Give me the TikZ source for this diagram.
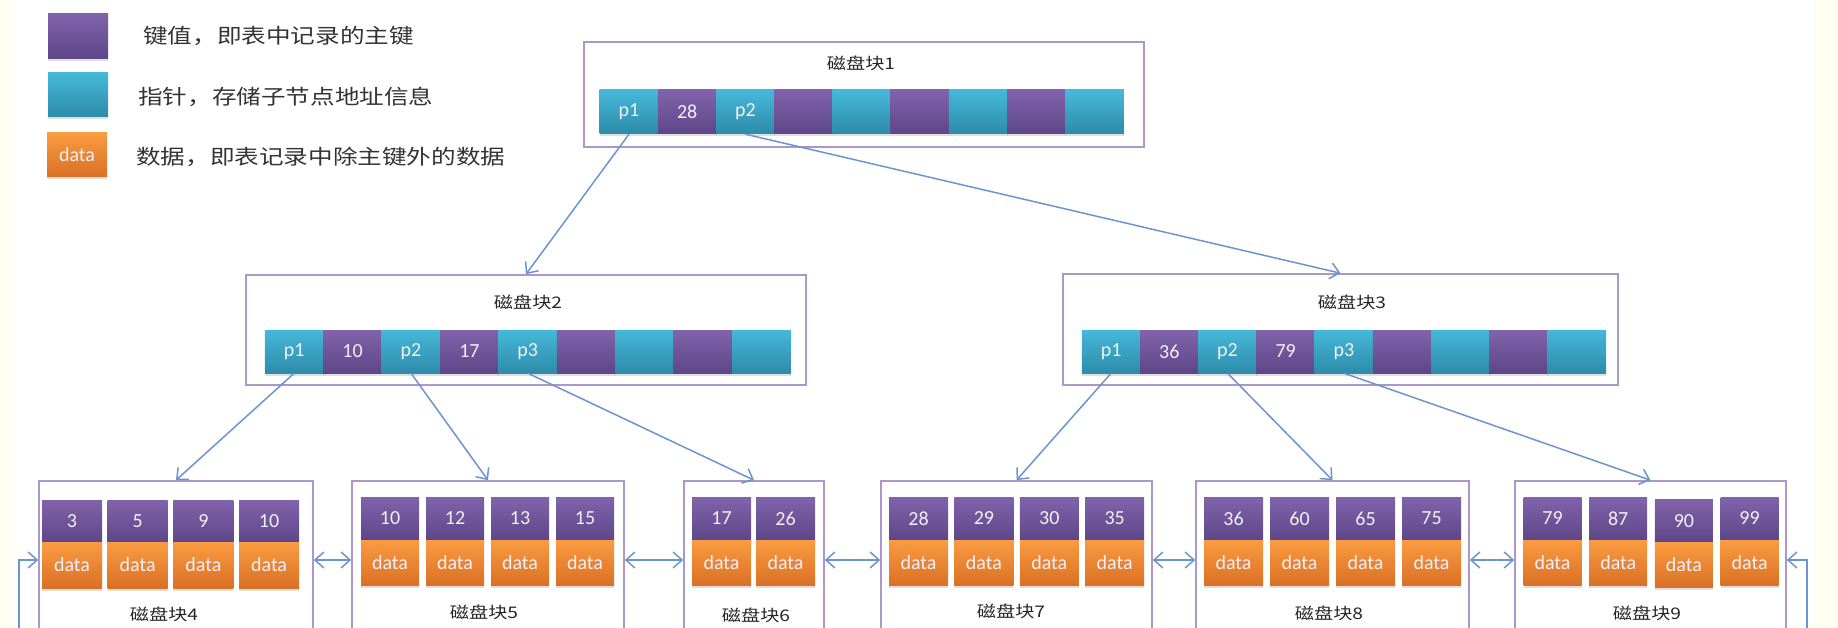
\documentclass[tikz,border=0pt]{standalone}
\usepackage{fontspec}
\setmainfont{Carlito}
\newfontfamily\cjk[FakeStretch=1.2]{Noto Sans CJK SC}
\usepackage{tikz}
\usetikzlibrary{arrows.meta,shadows}
\definecolor{keytop}{HTML}{8163AB}
\definecolor{keybot}{HTML}{5E4688}
\definecolor{ptrtop}{HTML}{46B8DA}
\definecolor{ptrbot}{HTML}{2E8BA9}
\definecolor{dattop}{HTML}{FA9C42}
\definecolor{datbot}{HTML}{DA7024}
\definecolor{frame}{HTML}{AC97CC}
\definecolor{linkblue}{HTML}{6A95CE}
\definecolor{cream}{HTML}{FFFEF0}
\definecolor{celltext}{HTML}{F3EFF8}
\tikzstyle{cell}=[inner sep=0pt, text=celltext, font=\fontsize{20}{20}\selectfont, drop shadow={opacity=0.25, shadow xshift=0pt, shadow yshift=-2.5pt}]
\tikzstyle{key}=[cell, top color=keytop, bottom color=keybot]
\tikzstyle{ptr}=[cell, top color=ptrtop, bottom color=ptrbot]
\tikzstyle{dat}=[cell, top color=dattop, bottom color=datbot]
\tikzstyle{blk}=[draw=frame, line width=1.6pt, inner sep=0pt]
\tikzstyle{ttl}=[font=\cjk\fontsize{16}{16}\selectfont, text=black!85, inner sep=0pt]
\tikzstyle{note}=[font=\cjk\fontsize{20.5}{20.5}\selectfont, text=black!80, anchor=west, inner sep=0pt]
\tikzstyle{tree}=[draw=linkblue, line width=1.5pt, -{Straight Barb[length=9pt,width=16pt]}]
\tikzstyle{side}=[tree, {Straight Barb[length=9pt,width=16pt]}-{Straight Barb[length=9pt,width=16pt]}]

\begin{document}
\begin{tikzpicture}[x=1pt,y=-1pt]
    \useasboundingbox (0,0) rectangle (1838,628);
    \clip (0,0) rectangle (1838,628);
    \fill[cream] (0,0) rectangle (13,628);
    \fill[cream] (1813,0) rectangle (1838,628);
    \node[key, minimum width=60pt, minimum height=45pt] (lk) at (78,36) {};
    \node[ptr, minimum width=60pt, minimum height=44pt] (lp) at (78,95) {};
    \node[dat, minimum width=60pt, minimum height=44pt] (ld) at (77,155) {data};
    \node[note] (nk) at (143,36) {键值，即表中记录的主键};
    \node[note] (np) at (138,97) {指针，存储子节点地址信息};
    \node[note] (nd) at (136,157) {数据，即表记录中除主键外的数据};
    \node[blk, minimum width=560pt, minimum height=105pt] (b1) at (864,94.5) {};
    \node[ttl] (t1) at (861,63) {磁盘块1};
    \path[nodes={minimum width=58.6pt, minimum height=44pt}] (629,112) node[ptr] (b1c1) {p1} ++(58.2,0) node[key] (b1c2) {28} ++(58.2,0) node[ptr] (b1c3) {p2} ++(58.2,0) node[key] (b1c4) {} ++(58.2,0) node[ptr] (b1c5) {} ++(58.2,0) node[key] (b1c6) {} ++(58.2,0) node[ptr] (b1c7) {} ++(58.2,0) node[key] (b1c8) {} ++(58.2,0) node[ptr] (b1c9) {};
    \node[blk, minimum width=560pt, minimum height=110pt] (b2) at (526,330) {};
    \node[ttl] (t2) at (528,302) {磁盘块2};
    \path[nodes={minimum width=58.8pt, minimum height=43pt}] (294.2,351.5) node[ptr] (b2c1) {p1} ++(58.4,0) node[key] (b2c2) {10} ++(58.4,0) node[ptr] (b2c3) {p2} ++(58.4,0) node[key] (b2c4) {17} ++(58.4,0) node[ptr] (b2c5) {p3} ++(58.4,0) node[key] (b2c6) {} ++(58.4,0) node[ptr] (b2c7) {} ++(58.4,0) node[key] (b2c8) {} ++(58.4,0) node[ptr] (b2c9) {};
    \node[blk, minimum width=555pt, minimum height=111pt] (b3) at (1340.5,329.5) {};
    \node[ttl] (t3) at (1352,302) {磁盘块3};
    \path[nodes={minimum width=58.6pt, minimum height=43pt}] (1111.1,351.5) node[ptr] (b3c1) {p1} ++(58.2,0) node[key] (b3c2) {36} ++(58.2,0) node[ptr] (b3c3) {p2} ++(58.2,0) node[key] (b3c4) {79} ++(58.2,0) node[ptr] (b3c5) {p3} ++(58.2,0) node[key] (b3c6) {} ++(58.2,0) node[ptr] (b3c7) {} ++(58.2,0) node[key] (b3c8) {} ++(58.2,0) node[ptr] (b3c9) {};
    \node[blk, minimum width=274pt, minimum height=158pt] (b4) at (176,560) {};
    \node[blk, minimum width=272pt, minimum height=158pt] (b5) at (488,560) {};
    \node[blk, minimum width=140pt, minimum height=158pt] (b6) at (754,560) {};
    \node[blk, minimum width=271pt, minimum height=158pt] (b7) at (1016.5,560) {};
    \node[blk, minimum width=273pt, minimum height=158pt] (b8) at (1332.5,560) {};
    \node[blk, minimum width=271pt, minimum height=158pt] (b9) at (1650.5,560) {};
    \node[ttl] (t4) at (164,614) {磁盘块4};
    \node[ttl] (t5) at (484,612) {磁盘块5};
    \node[ttl] (t6) at (756,615) {磁盘块6};
    \node[ttl] (t7) at (1011,611) {磁盘块7};
    \node[ttl] (t8) at (1329,613) {磁盘块8};
    \node[ttl] (t9) at (1647,613) {磁盘块9};
    \path[nodes={minimum width=60pt, minimum height=42pt, font=\fontsize{21}{21}\selectfont}] (72,521) node[key] (b4k1) {3} ++(65.7,0) node[key] (b4k2) {5} ++(65.7,0) node[key] (b4k3) {9} ++(65.7,0) node[key] (b4k4) {10};
    \path[nodes={minimum width=60pt, minimum height=46pt, font=\fontsize{21}{21}\selectfont}] (72,565) node[dat] (b4d1) {data} ++(65.7,0) node[dat] (b4d2) {data} ++(65.7,0) node[dat] (b4d3) {data} ++(65.7,0) node[dat] (b4d4) {data};
    \path[nodes={minimum width=58pt, minimum height=43pt, font=\fontsize{21}{21}\selectfont}] (390,518.5) node[key] (b5k1) {10} ++(65,0) node[key] (b5k2) {12} ++(65,0) node[key] (b5k3) {13} ++(65,0) node[key] (b5k4) {15};
    \path[nodes={minimum width=58pt, minimum height=45pt, font=\fontsize{21}{21}\selectfont}] (390,562.5) node[dat] (b5d1) {data} ++(65,0) node[dat] (b5d2) {data} ++(65,0) node[dat] (b5d3) {data} ++(65,0) node[dat] (b5d4) {data};
    \path[nodes={minimum width=59pt, minimum height=43pt, font=\fontsize{21}{21}\selectfont}] (721.5,518.5) node[key] (b6k1) {17} ++(64,0) node[key] (b6k2) {26};
    \path[nodes={minimum width=59pt, minimum height=45pt, font=\fontsize{21}{21}\selectfont}] (721.5,562.5) node[dat] (b6d1) {data} ++(64,0) node[dat] (b6d2) {data};
    \path[nodes={minimum width=59pt, minimum height=43pt, font=\fontsize{21}{21}\selectfont}] (918.5,518.5) node[key] (b7k1) {28} ++(65.4,0) node[key] (b7k2) {29} ++(65.4,0) node[key] (b7k3) {30} ++(65.4,0) node[key] (b7k4) {35};
    \path[nodes={minimum width=59pt, minimum height=45pt, font=\fontsize{21}{21}\selectfont}] (918.5,562.5) node[dat] (b7d1) {data} ++(65.4,0) node[dat] (b7d2) {data} ++(65.4,0) node[dat] (b7d3) {data} ++(65.4,0) node[dat] (b7d4) {data};
    \path[nodes={minimum width=59pt, minimum height=43pt, font=\fontsize{21}{21}\selectfont}] (1233.5,518.5) node[key] (b8k1) {36} ++(66,0) node[key] (b8k2) {60} ++(66,0) node[key] (b8k3) {65} ++(66,0) node[key] (b8k4) {75};
    \path[nodes={minimum width=59pt, minimum height=45pt, font=\fontsize{21}{21}\selectfont}] (1233.5,562.5) node[dat] (b8d1) {data} ++(66,0) node[dat] (b8d2) {data} ++(66,0) node[dat] (b8d3) {data} ++(66,0) node[dat] (b8d4) {data};
    \path[nodes={minimum width=58pt, minimum height=43pt, font=\fontsize{21}{21}\selectfont}] (1552.5,518.5) node[key] (b9k1) {79} ++(65.7,0) node[key] (b9k2) {87} ++(65.7,0) node[key, yshift=-2.5pt] (b9k3) {90} ++(65.7,0) node[key] (b9k4) {99};
    \path[nodes={minimum width=58pt, minimum height=45pt, font=\fontsize{21}{21}\selectfont}] (1552.5,562.5) node[dat] (b9d1) {data} ++(65.7,0) node[dat] (b9d2) {data} ++(65.7,0) node[dat, yshift=-2.5pt] (b9d3) {data} ++(65.7,0) node[dat] (b9d4) {data};
    \draw[tree] (b1c1.south) -- (b2.north);
    \draw[tree] (b1c3.south) -- (b3.north);
    \draw[tree] (b2c1.south) -- (b4.north);
    \draw[tree] (b2c3.south) -- (b5.north);
    \draw[tree] (b2c5.south) -- (b6.north);
    \draw[tree] (b3c1.south) -- (b7.north);
    \draw[tree] (b3c3.south) -- (b8.north);
    \draw[tree] (b3c5.south) -- (b9.north);
    \draw[side] (b4.east) -- (b5.west);
    \draw[side] (b5.east) -- (b6.west);
    \draw[side] (b6.east) -- (b7.west);
    \draw[side] (b7.east) -- (b8.west);
    \draw[side] (b8.east) -- (b9.west);
    \coordinate (wrapL) at (19,650);
    \coordinate (wrapR) at (1807,650);
    \draw[tree] (wrapL) |- (b4.west);
    \draw[tree] (wrapR) |- (b9.east);
\end{tikzpicture}
\end{document}
